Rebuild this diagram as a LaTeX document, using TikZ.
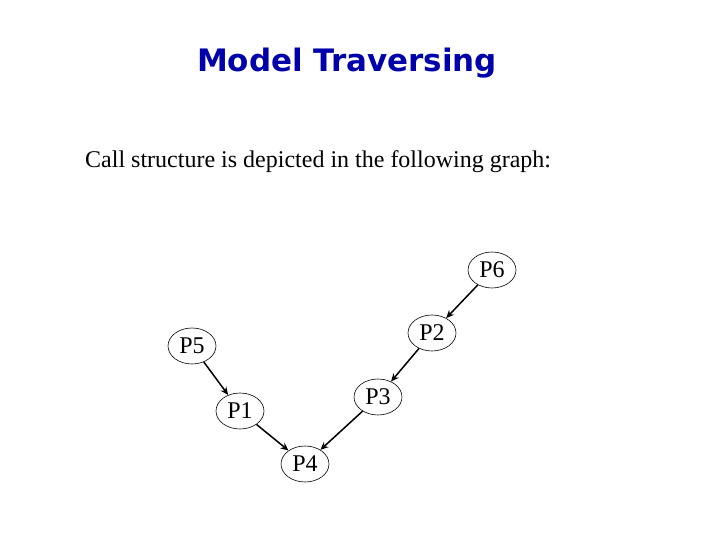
\documentclass[tikz,border=0pt]{standalone}
\usepackage{fontspec}
\setmainfont{Liberation Serif}
\newfontfamily\titlefont{DejaVu Sans}
\usetikzlibrary{shapes.geometric,arrows.meta}
\definecolor{titleblue}{RGB}{0,0,170}
\begin{document}
\begin{tikzpicture}[x=1pt,y=1pt,
  pnode/.style={draw, ellipse, line width=0.6pt, minimum width=48pt, minimum height=36pt, inner sep=0pt, font=\fontsize{24}{26}\selectfont},
  callarrow/.style={-{Stealth[length=8pt,width=7pt]}, line width=1.5pt}]
\useasboundingbox (0,0) rectangle (720,540);
\node[font=\titlefont\bfseries\fontsize{25}{28}\selectfont, text=titleblue, inner sep=0pt] (title) at (347,477) {\resizebox{300pt}{!}{Model Traversing}};
\node[font=\fontsize{24}{26}\selectfont, anchor=base west, inner sep=0pt] (sub) at (85,372) {Call structure is depicted in the following graph:};
\node[pnode] (p6) at (492,270) {P6};
\node[pnode] (p2) at (432,207) {P2};
\node[pnode] (p5) at (192,194) {P5};
\node[pnode] (p3) at (378,143) {P3};
\node[pnode] (p1) at (240,129) {P1};
\node[pnode] (p4) at (305,76) {P4};
\draw[callarrow] (p6) -- (p2);
\draw[callarrow] (p2) -- (p3);
\draw[callarrow] (p3) -- (p4);
\draw[callarrow] (p5) -- (p1);
\draw[callarrow] (p1) -- (p4);
\end{tikzpicture}
\end{document}
